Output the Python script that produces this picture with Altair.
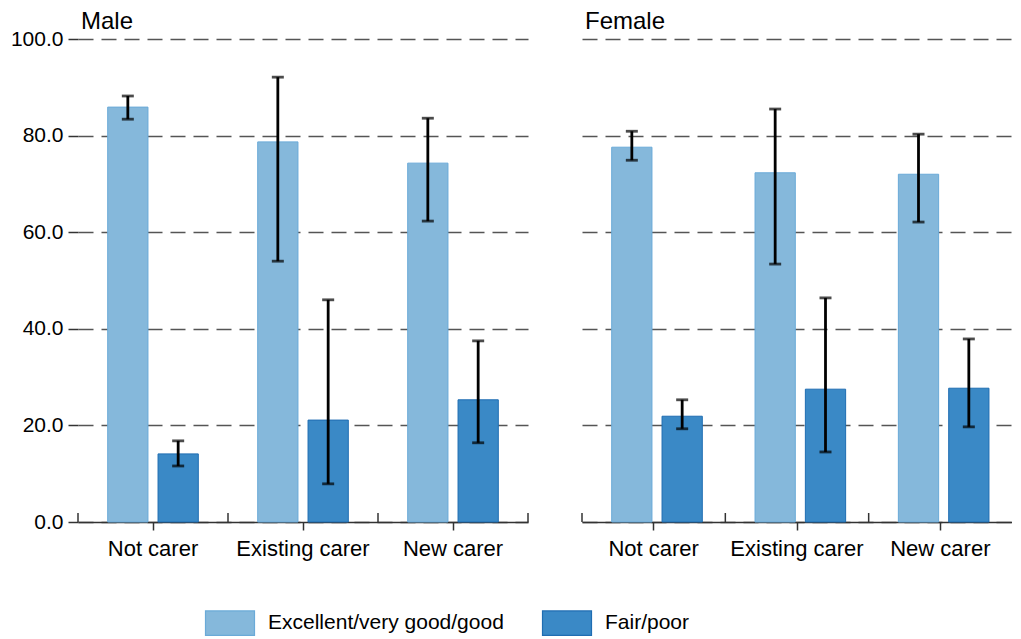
import altair as alt
import pandas as pd

sexes = ["Male", "Female"]
categories = ["Not carer", "Existing carer", "New carer"]
health = ["Excellent/very good/good", "Fair/poor"]

male_good = [85.9, 78.7, 74.3]
male_good_lo = [83.4, 54.0, 62.3]
male_good_hi = [88.2, 92.1, 83.6]
male_fair = [14.1, 21.1, 25.3]
male_fair_lo = [11.6, 7.9, 16.4]
male_fair_hi = [16.8, 46.0, 37.5]

female_good = [77.6, 72.3, 72.0]
female_good_lo = [74.9, 53.4, 62.1]
female_good_hi = [80.9, 85.5, 80.3]
female_fair = [21.9, 27.5, 27.7]
female_fair_lo = [19.3, 14.5, 19.7]
female_fair_hi = [25.3, 46.4, 37.9]

y_ticks = [0, 20, 40, 60, 80, 100]

fill_colors = ["#85b8db", "#3a89c6"]
stroke_colors = ["#6aaad8", "#1f6db2"]

FONT = "Liberation Sans"

rows = []
series = {
    "Male": [(male_good, male_good_lo, male_good_hi), (male_fair, male_fair_lo, male_fair_hi)],
    "Female": [(female_good, female_good_lo, female_good_hi), (female_fair, female_fair_lo, female_fair_hi)],
}
for sex in sexes:
    for h, (vals, los, his) in zip(health, series[sex]):
        for c, v, lo, hi in zip(categories, vals, los, his):
            rows.append({"sex": sex, "cat": c, "health": h, "value": v, "lo": lo, "hi": hi})
df = pd.DataFrame(rows)
bounds_df = pd.DataFrame({"cat": categories})


def panel(sex, width, show_y, end_tick):
    d = df[df["sex"] == sex]
    x = alt.X("cat:N", sort=categories, title=None,
              scale=alt.Scale(domain=categories, paddingInner=0, paddingOuter=0),
              axis=alt.Axis(labelAngle=0, tickSize=8, tickColor="#333333", tickWidth=1.5,
                            domainColor="#333333", domainWidth=1.5, labelFontSize=22,
                            labelColor="black", labelPadding=8, grid=False, labelFont=FONT))
    xo = alt.XOffset("health:N", sort=health,
                     scale=alt.Scale(domain=health, paddingInner=0.2, paddingOuter=0.59))
    if show_y:
        yaxis = alt.Axis(values=y_ticks, format=".1f", grid=True, gridDash=[15, 8],
                         gridColor="#555555", gridWidth=1.5, domain=False, tickSize=10,
                         tickColor="#333333", tickWidth=1.5, labelFontSize=21,
                         labelColor="black", labelPadding=5, labelFont=FONT)
    else:
        yaxis = alt.Axis(values=y_ticks, grid=True, gridDash=[15, 8], gridColor="#555555",
                         gridWidth=1.5, domain=False, ticks=False, labels=False)
    y = alt.Y("value:Q", title=None, scale=alt.Scale(domain=[0, 100], nice=False), axis=yaxis)

    base = alt.Chart(d)
    bars = base.mark_bar(strokeWidth=1).encode(
        x=x, xOffset=xo, y=y,
        fill=alt.Fill("health:N", sort=health,
                      scale=alt.Scale(domain=health, range=fill_colors),
                      legend=alt.Legend(title=None, orient="none", legendX=139, legendY=571,
                                        direction="horizontal",
                                        symbolType="M-2,-1H2V1H-2Z", symbolSize=600,
                                        symbolStrokeWidth=1.2, labelFontSize=21,
                                        labelFont=FONT, labelColor="black",
                                        labelOffset=25, columnPadding=36, labelLimit=400,
                                        padding=0)),
        stroke=alt.Stroke("health:N", sort=health,
                          scale=alt.Scale(domain=health, range=stroke_colors),
                          legend=None),
    )
    rules = base.mark_rule(color="black", strokeWidth=2.8).encode(
        x=x, xOffset=xo, y=alt.Y("lo:Q"), y2="hi:Q")
    cap_lo = base.mark_tick(color="black", thickness=2.8, size=12, orient="horizontal").encode(
        x=x, xOffset=xo, y=alt.Y("lo:Q"))
    cap_hi = base.mark_tick(color="black", thickness=2.8, size=12, orient="horizontal").encode(
        x=x, xOffset=xo, y=alt.Y("hi:Q"))
    bticks = alt.Chart(bounds_df).mark_rule(color="#333333", strokeWidth=1.5).encode(
        x=alt.X("cat:N", sort=categories, bandPosition=0),
        y=alt.value(483), y2=alt.value(474))
    title = alt.Chart(pd.DataFrame({"t": [sex]})).mark_text(
        align="left", baseline="alphabetic", fontSize=24, font=FONT, color="black"
    ).encode(x=alt.value(3), y=alt.value(-10), text="t:N")
    layers = [bars, rules, cap_lo, cap_hi, bticks, title]
    if end_tick:
        etick = alt.Chart(bounds_df.tail(1)).mark_rule(color="#333333", strokeWidth=1.5).encode(
            x=alt.X("cat:N", sort=categories, bandPosition=1),
            y=alt.value(483), y2=alt.value(474))
        layers.append(etick)
    return alt.layer(*layers).properties(width=width, height=483)


chart = alt.hconcat(
    panel("Male", 450, True, True),
    panel("Female", 430, False, False),
    spacing=52,
).resolve_scale(fill="shared", stroke="shared").properties(
    padding={"left": 2, "top": 2, "right": 0, "bottom": 0}
).configure(font=FONT).configure_view(strokeWidth=0)

chart.save("out.html", embed_options={"renderer": "svg", "actions": False})
